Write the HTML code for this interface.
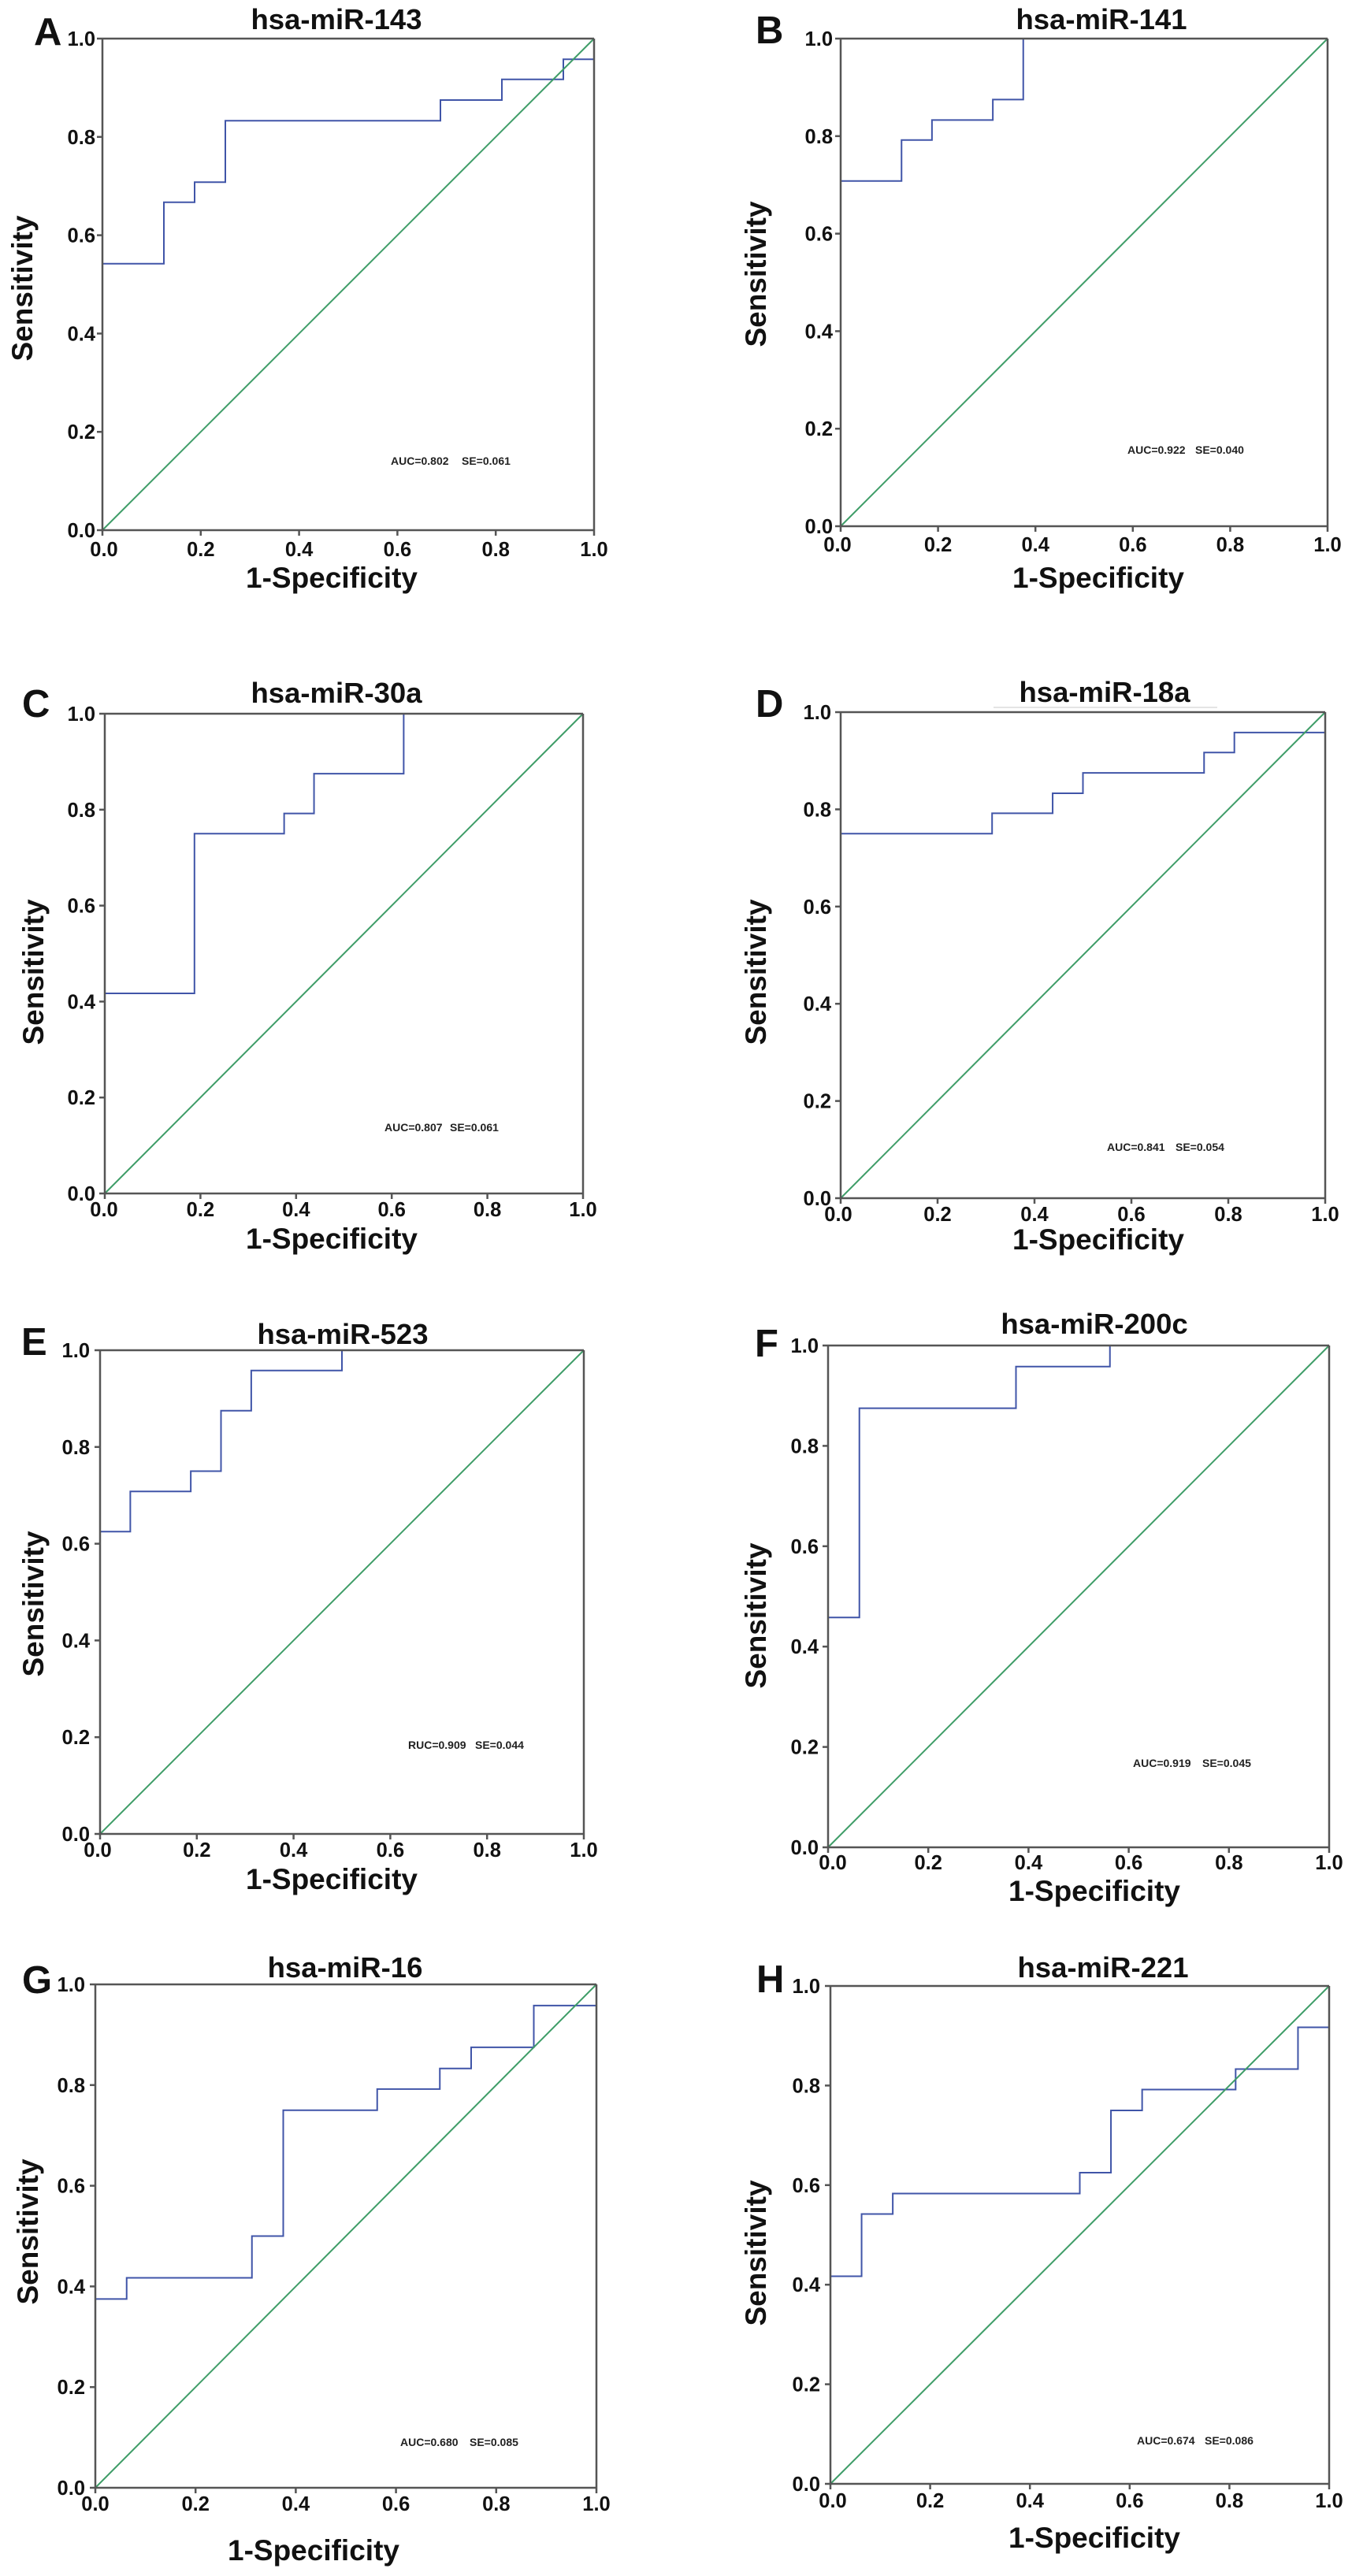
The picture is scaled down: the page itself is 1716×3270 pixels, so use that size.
<!DOCTYPE html>
<html lang="en">
<head>
<meta charset="utf-8">
<title>ROC curves of miRNAs</title>
<style>
  html, body { margin: 0; padding: 0; background: #fff; width: 1716px; height: 3270px; overflow: hidden; }
  svg { display: block; }
  text { font-family: "Liberation Sans", Arial, sans-serif; font-weight: bold; fill: #111; }
  .title { font-size: 36.5px; text-anchor: middle; }
  .axis-title { font-size: 37px; text-anchor: middle; }
  .letter { font-size: 49px; }
  .tick-label { font-size: 25.5px; }
  .note { font-size: 14px; fill: #222; }
</style>
</head>
<body>
<svg id="figure" xmlns="http://www.w3.org/2000/svg" width="1716" height="3270" viewBox="0 0 1716 3270">
  <rect x="0" y="0" width="1716" height="3270" fill="#ffffff"/>

  <g id="panel-A">
    <text class="title" x="427" y="37">hsa-miR-143</text>
    <text class="letter" x="43" y="57">A</text>
    <text class="axis-title" x="41" y="366" transform="rotate(-90 41 366)">Sensitivity</text>
    <text class="axis-title" x="421" y="746">1-Specificity</text>
    <text class="note" x="496" y="590">AUC=0.802</text>
    <text class="note" x="586" y="590">SE=0.061</text>
  </g>

  <g id="panel-B">
    <text class="title" x="1398" y="37">hsa-miR-141</text>
    <text class="letter" x="959" y="55">B</text>
    <text class="axis-title" x="972" y="348" transform="rotate(-90 972 348)">Sensitivity</text>
    <text class="axis-title" x="1394" y="746">1-Specificity</text>
    <text class="note" x="1431" y="576">AUC=0.922</text>
    <text class="note" x="1517" y="576">SE=0.040</text>
  </g>

  <g id="panel-C">
    <text class="title" x="427" y="892">hsa-miR-30a</text>
    <text class="letter" x="28" y="910">C</text>
    <text class="axis-title" x="55" y="1234" transform="rotate(-90 55 1234)">Sensitivity</text>
    <text class="axis-title" x="421" y="1585">1-Specificity</text>
    <text class="note" x="488" y="1436">AUC=0.807</text>
    <text class="note" x="571" y="1436">SE=0.061</text>
  </g>

  <g id="panel-D">
    <text class="title" x="1402" y="891">hsa-miR-18a</text>
    <line x1="1261" y1="898" x2="1545" y2="898" stroke="#c8c8c8" stroke-width="1"/>
    <text class="letter" x="959" y="910">D</text>
    <text class="axis-title" x="972" y="1234" transform="rotate(-90 972 1234)">Sensitivity</text>
    <text class="axis-title" x="1394" y="1586">1-Specificity</text>
    <text class="note" x="1405" y="1461">AUC=0.841</text>
    <text class="note" x="1492" y="1461">SE=0.054</text>
  </g>

  <g id="panel-E">
    <text class="title" x="435" y="1706">hsa-miR-523</text>
    <text class="letter" x="27" y="1720">E</text>
    <text class="axis-title" x="55" y="2036" transform="rotate(-90 55 2036)">Sensitivity</text>
    <text class="axis-title" x="421" y="2398">1-Specificity</text>
    <text class="note" x="518" y="2220">RUC=0.909</text>
    <text class="note" x="603" y="2220">SE=0.044</text>
  </g>

  <g id="panel-F">
    <text class="title" x="1389" y="1693">hsa-miR-200c</text>
    <text class="letter" x="958" y="1722">F</text>
    <text class="axis-title" x="972" y="2051" transform="rotate(-90 972 2051)">Sensitivity</text>
    <text class="axis-title" x="1389" y="2413">1-Specificity</text>
    <text class="note" x="1438" y="2243">AUC=0.919</text>
    <text class="note" x="1526" y="2243">SE=0.045</text>
  </g>

  <g id="panel-G">
    <text class="title" x="438" y="2510">hsa-miR-16</text>
    <text class="letter" x="28" y="2530">G</text>
    <text class="axis-title" x="48" y="2833" transform="rotate(-90 48 2833)">Sensitivity</text>
    <text class="axis-title" x="398" y="3250">1-Specificity</text>
    <text class="note" x="508" y="3105">AUC=0.680</text>
    <text class="note" x="596" y="3105">SE=0.085</text>
  </g>

  <g id="panel-H">
    <text class="title" x="1400" y="2510">hsa-miR-221</text>
    <text class="letter" x="960" y="2529">H</text>
    <text class="axis-title" x="972" y="2860" transform="rotate(-90 972 2860)">Sensitivity</text>
    <text class="axis-title" x="1389" y="3234">1-Specificity</text>
    <text class="note" x="1443" y="3103">AUC=0.674</text>
    <text class="note" x="1529" y="3103">SE=0.086</text>
  </g>
</svg>

<script>
// ---- chart data: ROC step vertices ----
const tickValues = [0, 0.2, 0.4, 0.6, 0.8, 1];
const tickLabels = ['0.0', '0.2', '0.4', '0.6', '0.8', '1.0'];
const chanceX = [0, 1];
const chanceY = [0, 1];

const fprA = [0, 0.125, 0.1875, 0.25, 0.6875, 0.8125, 0.9375, 1];
const tprA = [0.542, 0.667, 0.708, 0.833, 0.875, 0.917, 0.958, 1];

const fprB = [0, 0.125, 0.1875, 0.3125, 0.375, 1];
const tprB = [0.708, 0.792, 0.833, 0.875, 1, 1];

const fprC = [0, 0.1875, 0.375, 0.4375, 0.625, 1];
const tprC = [0.417, 0.75, 0.792, 0.875, 1, 1];

const fprD = [0, 0.3125, 0.4375, 0.5, 0.75, 0.8125, 1];
const tprD = [0.75, 0.792, 0.833, 0.875, 0.917, 0.958, 1];

const fprE = [0, 0.0625, 0.1875, 0.25, 0.3125, 0.5, 1];
const tprE = [0.625, 0.708, 0.75, 0.875, 0.958, 1, 1];

const fprF = [0, 0.0625, 0.375, 0.5625, 1];
const tprF = [0.458, 0.875, 0.958, 1, 1];

const fprG = [0, 0.0625, 0.3125, 0.375, 0.5625, 0.6875, 0.75, 0.875, 1];
const tprG = [0.375, 0.417, 0.5, 0.75, 0.792, 0.833, 0.875, 0.958, 1];

const fprH = [0, 0.0625, 0.125, 0.5, 0.5625, 0.625, 0.8125, 0.9375, 1];
const tprH = [0.417, 0.542, 0.583, 0.625, 0.75, 0.792, 0.833, 0.917, 1];

// ---- layout of each panel (plot frame and tick label placement) ----
const panels = [
  { id: 'A', fpr: fprA, tpr: tprA, left: 130,  right: 754,  top: 49,   bottom: 673,  xLabelBase: 706,  yLabelRight: 121,  originShift: 2 },
  { id: 'B', fpr: fprB, tpr: tprB, left: 1067, right: 1685, top: 49,   bottom: 668,  xLabelBase: 700,  yLabelRight: 1057, originShift: -4 },
  { id: 'C', fpr: fprC, tpr: tprC, left: 133,  right: 740,  top: 906,  bottom: 1515, xLabelBase: 1544, yLabelRight: 121,  originShift: -1 },
  { id: 'D', fpr: fprD, tpr: tprD, left: 1067, right: 1682, top: 904,  bottom: 1521, xLabelBase: 1550, yLabelRight: 1055, originShift: -3 },
  { id: 'E', fpr: fprE, tpr: tprE, left: 127,  right: 741,  top: 1714, bottom: 2328, xLabelBase: 2357, yLabelRight: 114,  originShift: -3 },
  { id: 'F', fpr: fprF, tpr: tprF, left: 1051, right: 1687, top: 1708, bottom: 2345, xLabelBase: 2373, yLabelRight: 1039, originShift: 6 },
  { id: 'G', fpr: fprG, tpr: tprG, left: 121,  right: 757,  top: 2519, bottom: 3158, xLabelBase: 3187, yLabelRight: 108,  originShift: 0 },
  { id: 'H', fpr: fprH, tpr: tprH, left: 1054, right: 1687, top: 2521, bottom: 3153, xLabelBase: 3183, yLabelRight: 1041, originShift: 3 }
];

const SVG_NS = 'http://www.w3.org/2000/svg';

function makeLine(parent, name, x1, y1, x2, y2, color, width) {
  const el = document.createElementNS(SVG_NS, 'line');
  
  
  el.setAttribute('x1', x1);
  el.setAttribute('y1', y1);
  el.setAttribute('x2', x2);
  el.setAttribute('y2', y2);
  el.setAttribute('stroke', color);
  el.setAttribute('stroke-width', width);
  parent.appendChild(el);
  return el;
}

function makeTickLabel(parent, name, str, x, y, anchor) {
  const el = document.createElementNS(SVG_NS, 'text');
  
  
  el.setAttribute('class', 'tick-label');
  el.setAttribute('x', x);
  el.setAttribute('y', y);
  el.setAttribute('text-anchor', anchor);
  el.textContent = str;
  parent.appendChild(el);
  return el;
}

function drawPanel(p) {
  const g = document.getElementById('panel-' + p.id);
  const key = p.id.toLowerCase();
  const xScale = v => p.left + v * (p.right - p.left);
  const yScale = v => p.bottom - v * (p.bottom - p.top);

  // ROC staircase: horizontal to each fpr, then vertical to its tpr
  let d = 'M' + xScale(0) + ' ' + yScale(0);
  for (let i = 0; i < p.fpr.length; i++) {
    d += ' H' + xScale(p.fpr[i]).toFixed(2);
    d += ' V' + yScale(p.tpr[i]).toFixed(2);
  }
  const curve = document.createElementNS(SVG_NS, 'path');
  
  
  curve.setAttribute('d', d);
  curve.setAttribute('fill', 'none');
  curve.setAttribute('stroke', '#4055a8');
  curve.setAttribute('stroke-width', '2');
  g.appendChild(curve);

  // chance diagonal
  makeLine(g, 'reference-line-' + key, xScale(chanceX[0]), yScale(chanceY[0]), xScale(chanceX[1]), yScale(chanceY[1]), '#3f9d68', 2);

  // frame
  const spine = '#555555';
  makeLine(g, 'spine-top-' + key, p.left, p.top, p.right, p.top, spine, 2.5);
  makeLine(g, 'spine-right-' + key, p.right, p.top, p.right, p.bottom, spine, 2.5);
  makeLine(g, 'spine-bottom-' + key, p.left, p.bottom, p.right, p.bottom, spine, 2.5);
  makeLine(g, 'spine-left-' + key, p.left, p.top, p.left, p.bottom, spine, 2.5);

  // ticks + labels
  tickValues.forEach(function (v, i) {
    const tx = xScale(v);
    const ty = yScale(v);
    makeLine(g, 'x-tick-' + key + '-' + i, tx, p.bottom, tx, p.bottom + 7, spine, 2.5);
    makeLine(g, 'y-tick-' + key + '-' + i, p.left - 7, ty, p.left, ty, spine, 2.5);
    const labelX = i === 0 ? tx + p.originShift : tx;
    makeTickLabel(g, 'x-tick-label-' + key + '-' + i, tickLabels[i], labelX, p.xLabelBase, 'middle');
    makeTickLabel(g, 'y-tick-label-' + key + '-' + i, tickLabels[i], p.yLabelRight, ty + 9, 'end');
  });
}

panels.forEach(drawPanel);
</script>
</body>
</html>
